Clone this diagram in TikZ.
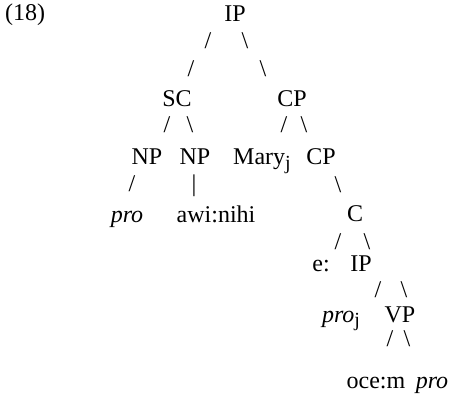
\documentclass[tikz,border=0pt]{standalone}
\usepackage{fontspec}
\setmainfont{Liberation Serif}
\newcommand{\idx}[1]{\raisebox{-0.45ex}{\fontsize{10}{12}\selectfont #1}}
\tikzset{
  cat/.style={font=\fontsize{12}{14}\selectfont, inner sep=0pt, anchor=base},
  brn/.style={cat}
}
\begin{document}
\begin{tikzpicture}[x=0.5pt,y=-0.5pt]
    \useasboundingbox (0,0) rectangle (476,405);

    \node[cat] (ex) at (25,21) {(18)};

    % top IP
    \node[cat] (IPa) at (235,22) {IP};
    \node[brn] (b1) at (208,49) {/};
    \node[brn] (b2) at (245,49) {\textbackslash};
    \node[brn] (b3) at (191,77) {/};
    \node[brn] (b4) at (263,77) {\textbackslash};

    % SC and CP
    \node[cat] (SC) at (177,107) {SC};
    \node[cat] (CPa) at (292,107) {CP};
    \node[brn] (b5) at (167,133) {/};
    \node[brn] (b6) at (190,133) {\textbackslash};
    \node[brn] (b7) at (284,133) {/};
    \node[brn] (b8) at (304,133) {\textbackslash};

    \node[cat] (NPa) at (147,165) {NP};
    \node[cat] (NPb) at (195,165) {NP};
    \node[cat] (Mary) at (262,165) {Mary\idx{j}};
    \node[cat] (CPb) at (321,165) {CP};
    \node[brn] (b9) at (132,192) {/};
    \node[brn] (b10) at (194,192) {|};
    \node[brn] (b11) at (338,193) {\textbackslash};

    \node[cat] (proa) at (127,223) {\textit{pro}};
    \node[cat] (awi) at (216,223) {awi:nihi};
    \node[cat] (C) at (355,222) {C};
    \node[brn] (b12) at (338,250) {/};
    \node[brn] (b13) at (367,250) {\textbackslash};

    % lower IP
    \node[cat] (e) at (321,272) {e:};
    \node[cat] (IPb) at (361,272) {IP};
    \node[brn] (b14) at (378,298) {/};
    \node[brn] (b15) at (404,298) {\textbackslash};

    \node[cat] (proj) at (341,322) {\textit{pro}\idx{j}};
    \node[cat] (VP) at (400,322) {VP};
    \node[brn] (b16) at (390,347) {/};
    \node[brn] (b17) at (407,347) {\textbackslash};

    \node[cat] (oce) at (376,388) {oce:m};
    \node[cat] (prob) at (432,388) {\textit{pro}};
\end{tikzpicture}
\end{document}
